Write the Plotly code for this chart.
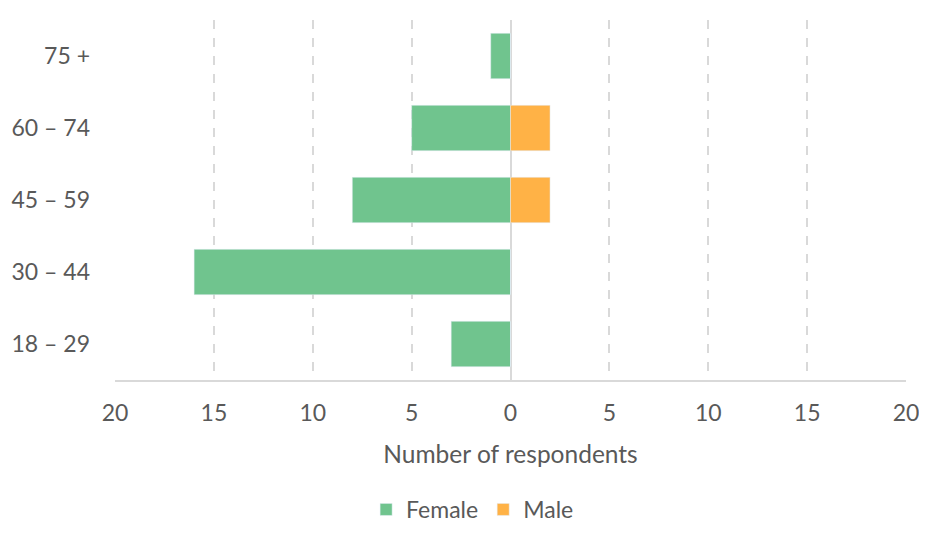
import plotly.graph_objects as go

categories = ["18 – 29", "30 – 44", "45 – 59", "60 – 74", "75 +"]
female = [3, 16, 8, 5, 1]
male = [0, 0, 2, 2, 0]
tick_vals = [-20, -15, -10, -5, 0, 5, 10, 15, 20]
tick_text = ["20", "15", "10", "5", "0", "5", "10", "15", "20"]

FONT = "Lato"
TXT = "#595959"

fig = go.Figure()
fig.add_trace(go.Bar(y=categories, x=[-v for v in female], orientation="h",
                     name="Female", marker_color="#70C48E", width=0.63))
fig.add_trace(go.Bar(y=categories, x=male, orientation="h",
                     name="Male", marker_color="#FFB246", width=0.63))

fig.update_layout(
    width=911, height=523,
    margin=dict(l=107, r=13, t=12, b=151, autoexpand=False),
    barmode="relative",
    plot_bgcolor="white", paper_bgcolor="white",
    font=dict(family=FONT, size=23, color=TXT),
    showlegend=True,
    legend=dict(orientation="h", xref="container", yref="container",
                x=0.51, y=0.0, xanchor="center", yanchor="bottom",
                font=dict(size=23, color=TXT), traceorder="normal",
                itemwidth=30),
    xaxis=dict(range=[-20, 20], tickvals=tick_vals, ticktext=tick_text,
               showgrid=True, gridcolor="#D9D9D9", griddash="dash", gridwidth=1.5,
               zeroline=True, zerolinecolor="#D9D9D9", zerolinewidth=1.5,
               showline=True, linecolor="#D9D9D9", linewidth=1.5,
               ticks="", ticklabelstandoff=12, automargin=False,
               ticklabeloverflow="allow",
               title=dict(text="Number of respondents", standoff=21,
                          font=dict(size=24.5, color=TXT)),
               fixedrange=True),
    yaxis=dict(showgrid=False, zeroline=False, showline=False,
               ticks="", ticklabelstandoff=24, range=[-0.5, 4.5],
               automargin=False, fixedrange=True),
)

fig.write_html("out.html")
